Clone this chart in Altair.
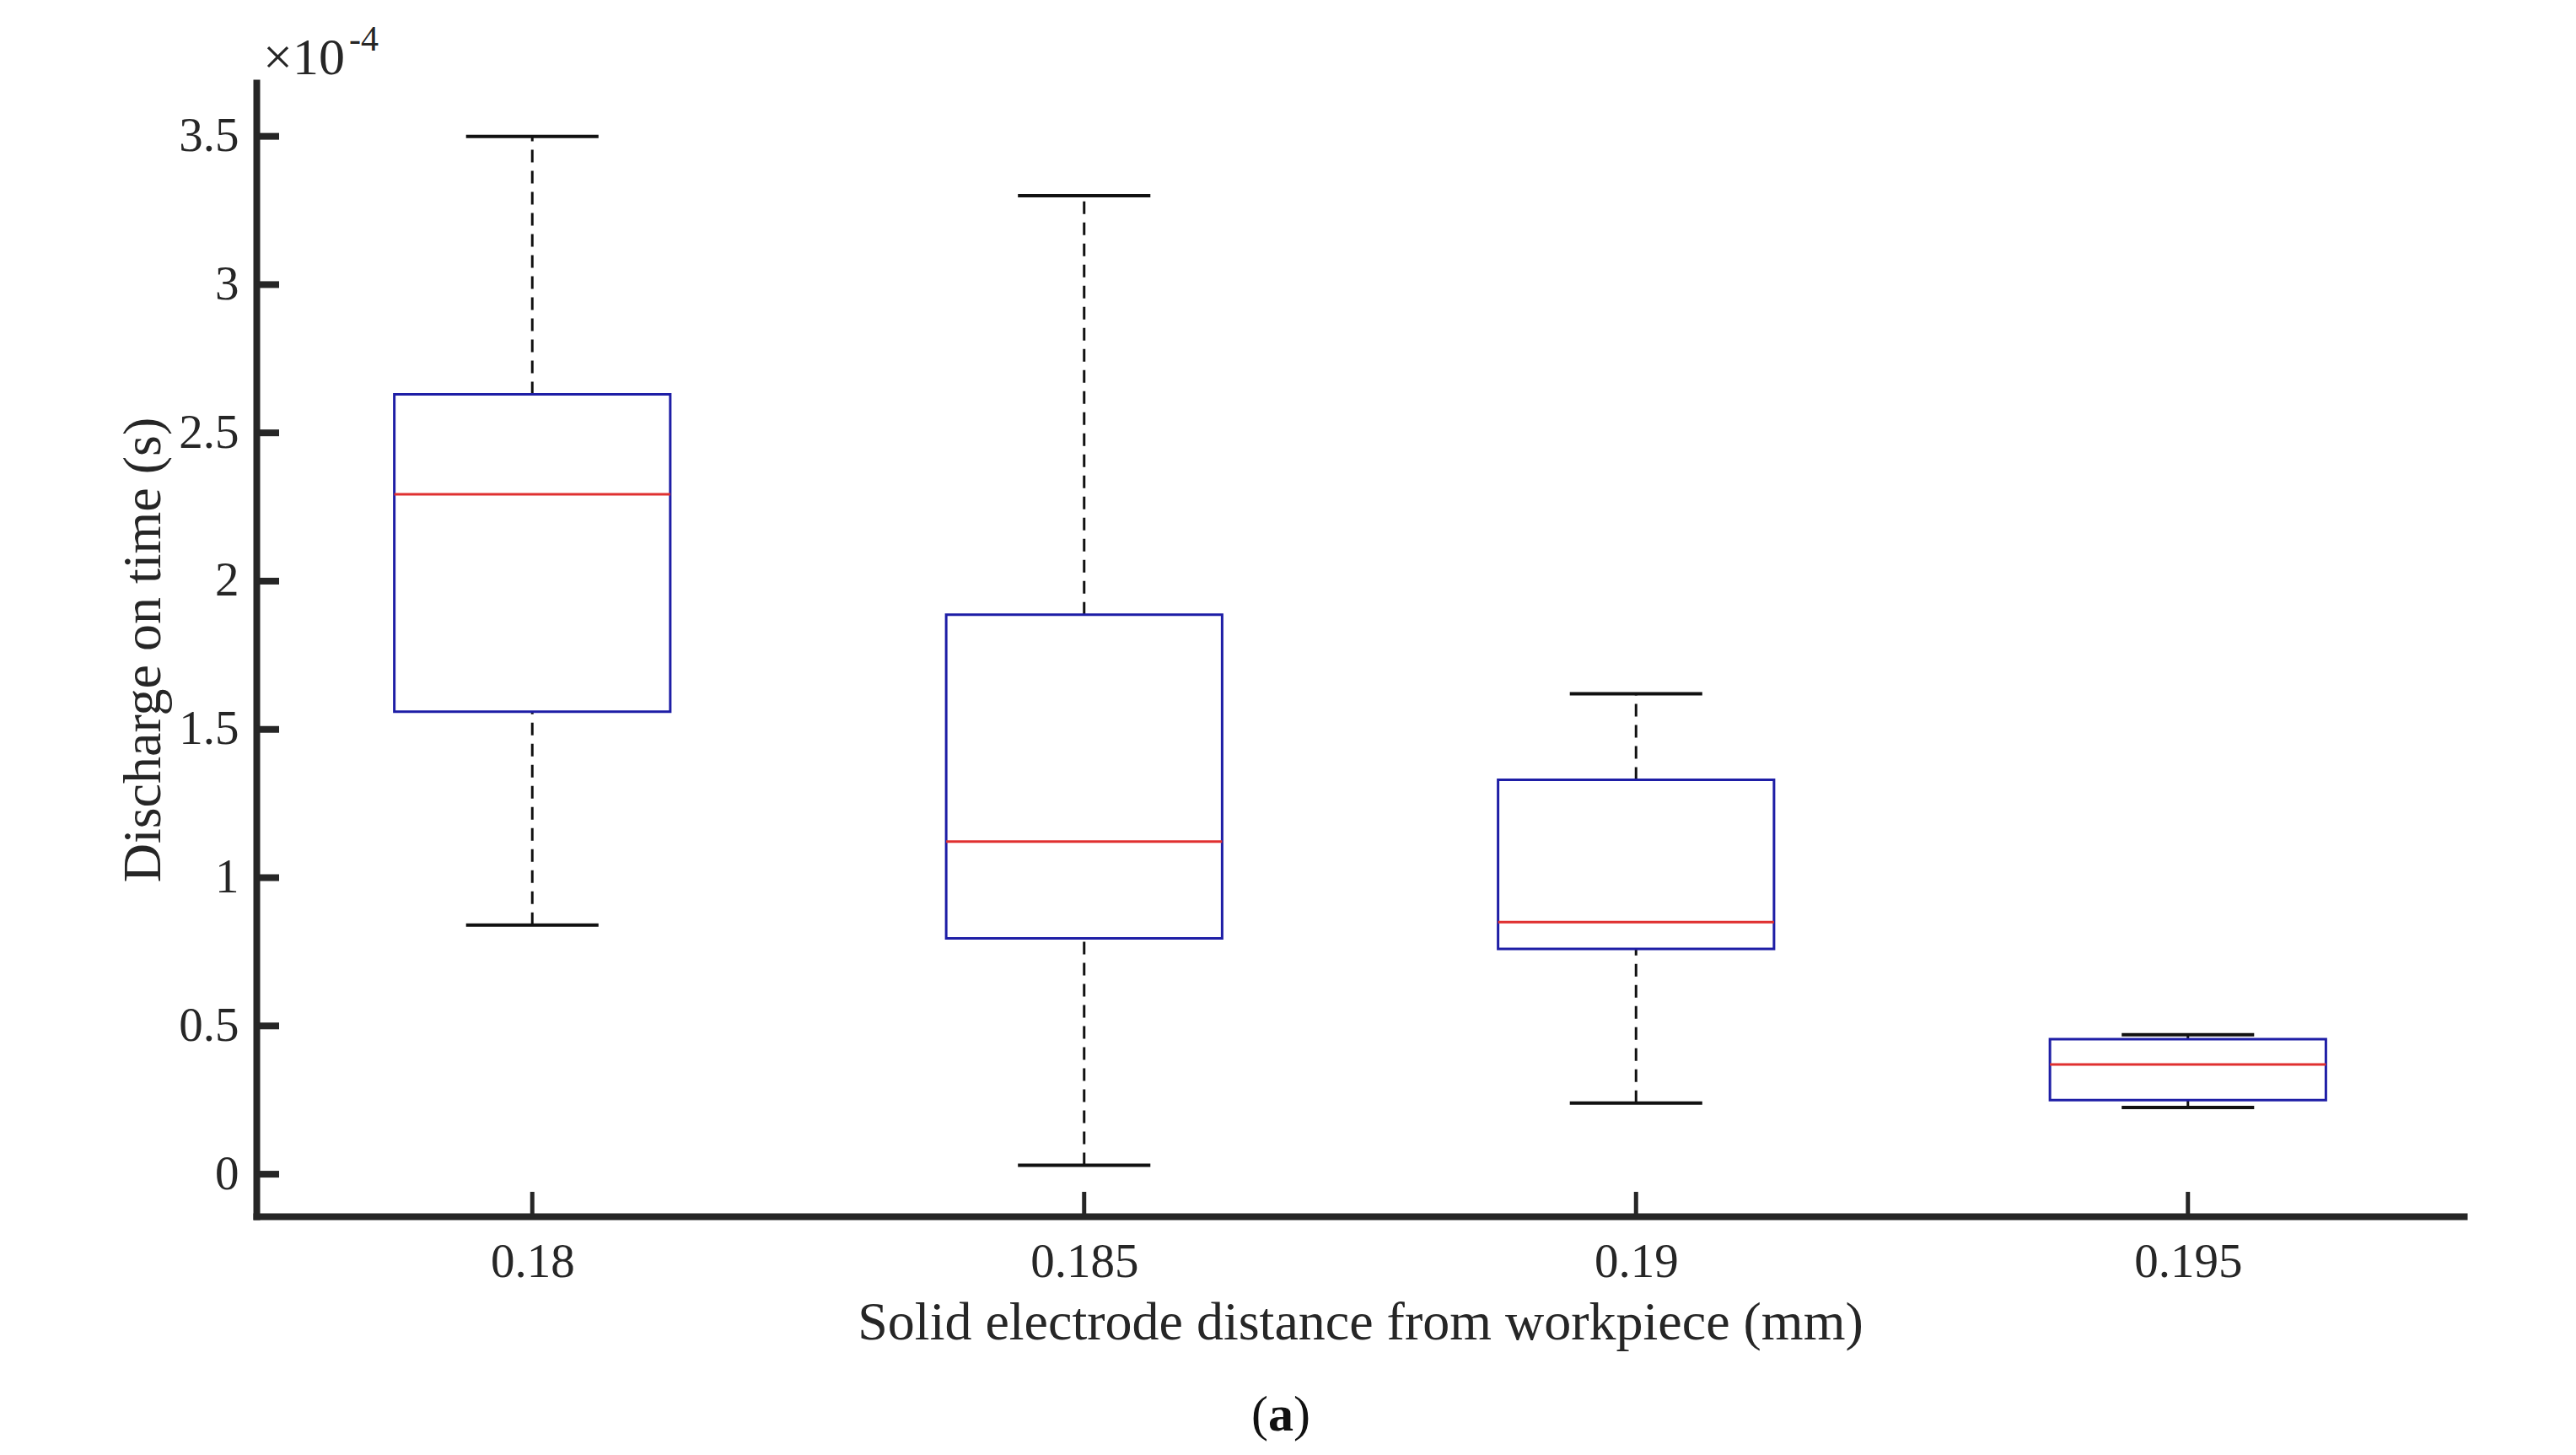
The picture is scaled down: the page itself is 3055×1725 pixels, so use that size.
import altair as alt
import pandas as pd

# Box-plot summaries (values in units of 1e-4 s)
positions = [0.18, 0.185, 0.19, 0.195]
lower_whisker = [0.84, 0.03, 0.24, 0.225]
q1 = [1.56, 0.795, 0.76, 0.25]
median = [2.293, 1.122, 0.85, 0.37]
q3 = [2.63, 1.887, 1.33, 0.455]
upper_whisker = [3.50, 3.30, 1.62, 0.47]

y_ticks = [0, 0.5, 1, 1.5, 2, 2.5, 3, 3.5]
x_ticks = positions

FONT = "Liberation Serif"
AX = "#262626"
BLUE = "#1e1ea6"
RED = "#e03030"
W, H = 2618, 1344
BOX_HALF = 0.00125
CAP_HALF = 0.0006

df = pd.DataFrame({
    "pos": positions, "lo": lower_whisker, "q1": q1,
    "med": median, "q3": q3, "hi": upper_whisker,
})

xscale = alt.Scale(domain=[0.1775, 0.1975], nice=False, zero=False)
yscale = alt.Scale(domain=[-0.142, 3.681], nice=False, zero=False)

xaxis = alt.Axis(values=x_ticks, format="~g", ticks=False, tickSize=0, grid=False,
                 domainWidth=8, domainColor=AX, domainCap="square",
                 labelFont=FONT, labelFontSize=57, labelColor=AX,
                 labelPadding=54, labelBaseline="middle",
                 title="Solid electrode distance from workpiece (mm)",
                 titleFont=FONT, titleFontSize=64, titleFontWeight="normal", titleColor=AX,
                 titleBaseline="middle", titleX=W / 2, titleY=126)
yaxis = alt.Axis(values=y_ticks, format="~g", ticks=False, tickSize=0, grid=False,
                 domainWidth=8, domainColor=AX, domainCap="square",
                 labelFont=FONT, labelFontSize=57, labelColor=AX,
                 labelPadding=21, labelBaseline="middle", labelAlign="right",
                 title="Discharge on time (s)",
                 titleFont=FONT, titleFontSize=64, titleFontWeight="normal", titleColor=AX,
                 titleAngle=270, titleBaseline="middle", titleX=-134, titleY=H / 2)

base = alt.Chart(df).transform_calculate(
    xl=f"datum.pos - {BOX_HALF}", xr=f"datum.pos + {BOX_HALF}",
    cl=f"datum.pos - {CAP_HALF}", cr=f"datum.pos + {CAP_HALF}",
)

X = lambda f: alt.X(f, type="quantitative", scale=xscale, axis=xaxis)
Y = lambda f: alt.Y(f, type="quantitative", scale=yscale, axis=yaxis)

whisk_up = base.mark_rule(color="#111111", strokeWidth=3, strokeDash=[15, 10]).encode(
    x=X("pos"), y=Y("q3"), y2="hi")
whisk_lo = base.mark_rule(color="#111111", strokeWidth=3, strokeDash=[15, 10]).encode(
    x=X("pos"), y=Y("lo"), y2="q1")
cap_up = base.mark_rule(color="#111111", strokeWidth=4).encode(
    x=X("cl"), x2="cr", y=Y("hi"))
cap_lo = base.mark_rule(color="#111111", strokeWidth=4).encode(
    x=X("cl"), x2="cr", y=Y("lo"))
box = base.mark_rect(fill="white", stroke=BLUE, strokeWidth=3).encode(
    x=X("xl"), x2="xr", y=Y("q1"), y2="q3")
med = base.mark_rule(color=RED, strokeWidth=3).encode(
    x=X("xl"), x2="xr", y=Y("med"))

ytick_layer = alt.Chart(pd.DataFrame({"v": y_ticks})).mark_rule(color=AX, strokeWidth=8).encode(
    y=Y("v"), x=alt.value(0), x2=alt.value(27))
xtick_layer = alt.Chart(pd.DataFrame({"v": x_ticks})).mark_rule(color=AX, strokeWidth=5).encode(
    x=X("v"), y=alt.value(H), y2=alt.value(H - 29))

exp_base = alt.Chart(pd.DataFrame({"t": ["×10"]})).mark_text(
    font=FONT, fontSize=62, color=AX, align="left", baseline="alphabetic").encode(
    text="t:N", x=alt.value(8), y=alt.value(-10))
exp_sup = alt.Chart(pd.DataFrame({"t": ["-4"]})).mark_text(
    font=FONT, fontSize=42, color=AX, align="left", baseline="alphabetic").encode(
    text="t:N", x=alt.value(110), y=alt.value(-38))

cap_open = alt.Chart(pd.DataFrame({"t": ["("]})).mark_text(
    font=FONT, fontSize=60, color="#111111", align="right", baseline="middle").encode(
    text="t:N", x=alt.value(1200), y=alt.value(1580))
cap_a = alt.Chart(pd.DataFrame({"t": ["a"]})).mark_text(
    font=FONT, fontSize=60, fontWeight="bold", color="#111111", align="center", baseline="middle").encode(
    text="t:N", x=alt.value(1215), y=alt.value(1580))
cap_close = alt.Chart(pd.DataFrame({"t": [")"]})).mark_text(
    font=FONT, fontSize=60, color="#111111", align="left", baseline="middle").encode(
    text="t:N", x=alt.value(1230), y=alt.value(1580))

chart = alt.layer(
    whisk_up, whisk_lo, cap_up, cap_lo, box, med, ytick_layer, xtick_layer,
    exp_base, exp_sup, cap_open, cap_a, cap_close,
).properties(
    width=W, height=H,
    autosize=alt.AutoSizeParams(type="none"),
    padding={"left": 296, "top": 90, "right": 100, "bottom": 275},
    background="white",
).configure_view(stroke=None)

chart.save("out.html", embed_options={"renderer": "svg", "actions": False})
